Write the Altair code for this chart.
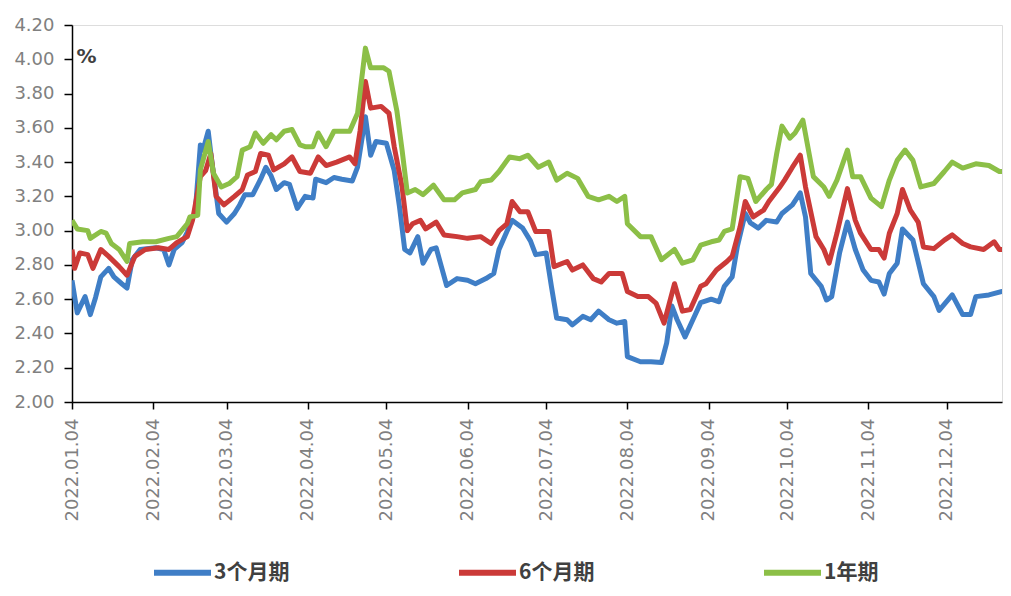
import altair as alt
import pandas as pd

series = ["3个月期", "6个月期", "1年期"]
colors = ["#3F7EC6", "#CB3A38", "#8CBF47"]

d_3m = ["01-04", "01-06", "01-09", "01-11", "01-13", "01-15", "01-18", "01-20", "01-23", "01-25",
        "01-27", "01-30", "02-05", "02-08", "02-10", "02-12", "02-15", "02-17", "02-19", "02-20",
        "02-22", "02-23", "02-25", "02-26", "03-01", "03-04", "03-07", "03-09", "03-11", "03-14",
        "03-17", "03-19", "03-21", "03-23", "03-26", "03-28", "03-31", "04-03", "04-06", "04-07",
        "04-11", "04-14", "04-17", "04-21", "04-23", "04-26", "04-28", "04-30", "05-04", "05-07",
        "05-09", "05-11", "05-13", "05-16", "05-18", "05-21", "05-23", "05-25", "05-27", "05-31",
        "06-04", "06-07", "06-11", "06-14", "06-16", "06-19", "06-21", "06-25", "06-28", "06-30",
        "07-04", "07-06", "07-08", "07-12", "07-14", "07-18", "07-21", "07-24", "07-28", "07-31",
        "08-03", "08-04", "08-09", "08-13", "08-17", "08-19", "08-21", "08-23", "08-26", "08-29",
        "09-01", "09-05", "09-08", "09-10", "09-13", "09-15", "09-18", "09-20", "09-23", "09-26",
        "09-30", "10-02", "10-06", "10-09", "10-11", "10-13", "10-17", "10-19", "10-21", "10-24",
        "10-27", "10-30", "11-02", "11-05", "11-08", "11-10", "11-12", "11-15", "11-17", "11-21",
        "11-25", "11-29", "12-01", "12-06", "12-10", "12-13", "12-15", "12-20", "12-25", "12-28"]
v_3m = [2.71, 2.52, 2.615, 2.51, 2.61, 2.73, 2.78, 2.73, 2.69, 2.665,
        2.83, 2.89, 2.90, 2.89, 2.80, 2.89, 2.93, 2.99, 3.08, 3.10,
        3.50, 3.47, 3.58, 3.45, 3.10, 3.05, 3.10, 3.15, 3.21, 3.21,
        3.30, 3.37, 3.32, 3.24, 3.28, 3.27, 3.13, 3.20, 3.19, 3.30,
        3.28, 3.31, 3.30, 3.29, 3.37, 3.665, 3.44, 3.52, 3.51, 3.35,
        3.14, 2.89, 2.87, 2.965, 2.81, 2.89, 2.90, 2.79, 2.68, 2.72,
        2.71, 2.69, 2.72, 2.75, 2.89, 2.995, 3.06, 3.015, 2.94, 2.86,
        2.87, 2.675, 2.49, 2.48, 2.45, 2.50, 2.48, 2.53, 2.48, 2.46,
        2.47, 2.265, 2.235, 2.235, 2.23, 2.345, 2.56, 2.48, 2.38, 2.48,
        2.58, 2.60, 2.585, 2.675, 2.73, 2.91, 3.10, 3.045, 3.015, 3.06,
        3.05, 3.10, 3.15, 3.22, 3.08, 2.75, 2.675, 2.595, 2.615, 2.87,
        3.05, 2.89, 2.77, 2.71, 2.70, 2.63, 2.75, 2.81, 3.01, 2.945,
        2.69, 2.615, 2.535, 2.625, 2.51, 2.51, 2.615, 2.625, 2.645, 2.655]

d_6m = ["01-04", "01-05", "01-07", "01-10", "01-12", "01-15", "01-18", "01-22", "01-25", "01-28",
        "02-01", "02-06", "02-10", "02-13", "02-17", "02-19", "02-22", "02-24", "02-26", "02-28",
        "03-03", "03-07", "03-10", "03-12", "03-15", "03-17", "03-20", "03-22", "03-26", "03-29",
        "04-01", "04-05", "04-08", "04-11", "04-15", "04-20", "04-22", "04-24", "04-26", "04-28",
        "05-02", "05-05", "05-07", "05-10", "05-12", "05-14", "05-17", "05-19", "05-23", "05-26",
        "05-31", "06-04", "06-09", "06-13", "06-16", "06-19", "06-21", "06-24", "06-27", "06-30",
        "07-05", "07-07", "07-12", "07-14", "07-18", "07-22", "07-25", "07-28", "08-02", "08-04",
        "08-08", "08-12", "08-15", "08-18", "08-22", "08-25", "08-28", "09-01", "09-03", "09-07",
        "09-11", "09-13", "09-16", "09-18", "09-21", "09-25", "09-27", "10-01", "10-03", "10-06",
        "10-09", "10-11", "10-15", "10-18", "10-20", "10-23", "10-27", "10-30", "11-01", "11-05",
        "11-08", "11-10", "11-12", "11-15", "11-17", "11-20", "11-23", "11-25", "11-29", "12-03",
        "12-06", "12-10", "12-13", "12-18", "12-22", "12-24", "12-28"]
v_6m = [2.89, 2.78, 2.87, 2.86, 2.78, 2.89, 2.85, 2.79, 2.74, 2.85,
        2.89, 2.90, 2.89, 2.93, 2.965, 3.06, 3.315, 3.35, 3.45, 3.20,
        3.15, 3.20, 3.24, 3.325, 3.345, 3.45, 3.44, 3.355, 3.39, 3.43,
        3.345, 3.335, 3.43, 3.38, 3.40, 3.43, 3.39, 3.585, 3.87, 3.715,
        3.725, 3.685, 3.49, 3.255, 3.00, 3.04, 3.06, 3.01, 3.05, 2.975,
        2.965, 2.955, 2.965, 2.925, 3.00, 3.04, 3.17, 3.11, 3.11, 2.995,
        2.995, 2.79, 2.82, 2.77, 2.80, 2.72, 2.70, 2.75, 2.75, 2.645,
        2.615, 2.615, 2.575, 2.46, 2.69, 2.53, 2.54, 2.675, 2.69, 2.77,
        2.82, 2.85, 3.02, 3.17, 3.08, 3.12, 3.17, 3.25, 3.295, 3.37,
        3.44, 3.255, 2.965, 2.89, 2.81, 2.985, 3.245, 3.06, 2.985, 2.89,
        2.89, 2.84, 2.985, 3.10, 3.24, 3.12, 3.05, 2.905, 2.895, 2.945,
        2.975, 2.925, 2.905, 2.89, 2.935, 2.89, 2.89]

d_1y = ["01-04", "01-06", "01-10", "01-11", "01-15", "01-17", "01-19", "01-22", "01-25", "01-26",
        "01-31", "02-05", "02-10", "02-13", "02-17", "02-18", "02-21", "02-22", "02-25", "02-27",
        "03-02", "03-05", "03-08", "03-10", "03-13", "03-15", "03-18", "03-21", "03-23", "03-26",
        "03-29", "04-01", "04-03", "04-06", "04-08", "04-11", "04-14", "04-20", "04-23", "04-26",
        "04-28", "05-03", "05-05", "05-08", "05-10", "05-12", "05-15", "05-18", "05-22", "05-26",
        "05-30", "06-02", "06-07", "06-09", "06-13", "06-16", "06-20", "06-24", "06-27", "07-01",
        "07-05", "07-08", "07-12", "07-16", "07-20", "07-24", "07-28", "07-31", "08-03", "08-04",
        "08-09", "08-13", "08-17", "08-22", "08-25", "08-29", "09-01", "09-05", "09-08", "09-10",
        "09-13", "09-16", "09-19", "09-22", "09-26", "09-28", "09-30", "10-02", "10-05", "10-07",
        "10-10", "10-14", "10-18", "10-20", "10-23", "10-27", "10-29", "11-01", "11-05", "11-09",
        "11-12", "11-15", "11-18", "11-21", "11-24", "11-29", "12-03", "12-06", "12-10", "12-15",
        "12-20", "12-24", "12-28"]
v_1y = [3.06, 3.01, 3.00, 2.955, 2.995, 2.985, 2.925, 2.89, 2.82, 2.925,
        2.935, 2.935, 2.955, 2.965, 3.04, 3.08, 3.09, 3.355, 3.52, 3.335,
        3.255, 3.275, 3.315, 3.47, 3.49, 3.57, 3.51, 3.56, 3.53, 3.58,
        3.59, 3.50, 3.49, 3.49, 3.57, 3.49, 3.58, 3.58, 3.685, 4.065,
        3.95, 3.95, 3.93, 3.70, 3.47, 3.22, 3.24, 3.21, 3.265, 3.18,
        3.18, 3.22, 3.24, 3.285, 3.295, 3.345, 3.43, 3.42, 3.44, 3.37,
        3.40, 3.295, 3.335, 3.305, 3.20, 3.18, 3.20, 3.17, 3.20, 3.04,
        2.965, 2.965, 2.83, 2.89, 2.81, 2.83, 2.915, 2.935, 2.945, 2.995,
        3.01, 3.315, 3.305, 3.17, 3.24, 3.27, 3.45, 3.61, 3.54, 3.57,
        3.645, 3.315, 3.255, 3.20, 3.295, 3.47, 3.315, 3.315, 3.19, 3.14,
        3.295, 3.41, 3.47, 3.41, 3.255, 3.275, 3.345, 3.40, 3.365, 3.39,
        3.38, 3.345, 3.345]

y_ticks = [2.0, 2.2, 2.4, 2.6, 2.8, 3.0, 3.2, 3.4, 3.6, 3.8, 4.0, 4.2]
tick_months = list(range(1, 13))

rows = []
for name, ds, vs in [(series[0], d_3m, v_3m), (series[1], d_6m, v_6m), (series[2], d_1y, v_1y)]:
    for d, v in zip(ds, vs):
        rows.append({"date": "2022-" + d, "rate": v, "series": name})
df = pd.DataFrame(rows)

tick_dates = [alt.DateTime(year=2022, month=m, date=4, utc=True) for m in tick_months]
x_domain = [alt.DateTime(year=2022, month=1, date=4, utc=True),
            alt.DateTime(year=2022, month=12, date=25, utc=True)]

chart = alt.Chart(df).mark_line(strokeWidth=5, strokeJoin="round", clip=True).encode(
    x=alt.X("date:T",
            scale=alt.Scale(type="utc", domain=x_domain, nice=False),
            axis=alt.Axis(values=tick_dates,
                          labelExpr="utcFormat(datum.value, '%Y.%m.%d')",
                          title=None, labelAngle=270, labelFont="DejaVu Sans",
                          labelFontSize=18, labelColor="#808080", labelPadding=9,
                          tickSize=7, tickColor="black", tickWidth=1.5,
                          domainColor="black", domainWidth=1.5, grid=False,
                          labelOverlap=False, labelBound=False, labelFlush=False)),
    y=alt.Y("rate:Q",
            scale=alt.Scale(domain=[2.0, 4.2], nice=False, zero=False),
            axis=alt.Axis(values=y_ticks, format=".2f", title="%", titleAngle=0,
                          titleX=4, titleY=31, titleAlign="left", titleBaseline="middle",
                          titleFont="DejaVu Sans", titleFontSize=20, titleFontWeight="bold",
                          titleColor="#404040", labelFont="DejaVu Sans", labelFontSize=18,
                          labelColor="#808080", labelPadding=10, tickSize=8,
                          tickColor="black", tickWidth=1.5, domainColor="black",
                          domainWidth=1.5, grid=False, labelOverlap=False)),
    color=alt.Color("series:N",
                    scale=alt.Scale(domain=series, range=colors),
                    legend=alt.Legend(title=None, orient="none", legendX=79, legendY=516,
                                      direction="horizontal", symbolType="stroke",
                                      symbolSize=3249, symbolStrokeWidth=6,
                                      columnPadding=157, labelOffset=0,
                                      labelFont="Noto Sans CJK SC", labelFontSize=21,
                                      labelFontWeight="bold", labelColor="#404040",
                                      padding=0)),
).properties(
    width=930,
    height=377,
    autosize=alt.AutoSizeParams(type="none"),
    padding={"left": 64, "top": 17, "right": 1, "bottom": 182},
).configure_view(stroke=None).configure(background="white")

chart.save("out.html", embed_options={"renderer": "svg", "actions": False})
